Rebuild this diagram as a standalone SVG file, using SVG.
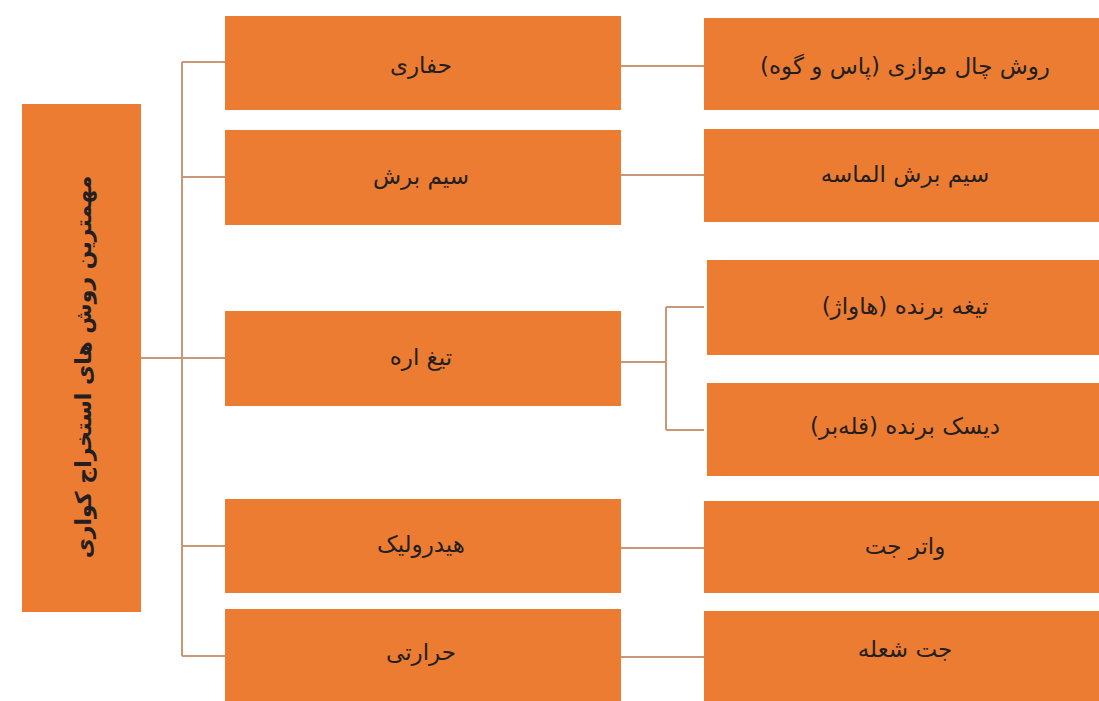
<svg xmlns="http://www.w3.org/2000/svg" width="1099" height="701" viewBox="0 0 1099 701">
<style>
.box{fill:#ec7c31}
.lbl{font-family:"DejaVu Sans",sans-serif;font-size:23px;fill:#231f20;text-anchor:middle;dominant-baseline:central;direction:rtl}
.title{font-family:"DejaVu Sans",sans-serif;font-size:22px;font-weight:bold;fill:#231f20;text-anchor:middle;dominant-baseline:central;direction:rtl}
.con{stroke:#c9977a;stroke-width:2;fill:none}
</style>
<rect width="1099" height="701" fill="#ffffff"/>
<g id="connectors">
<path class="con" d="M141 358H225M182 62V656M182 62H225M182 177H225M182 546H225M182 656H225"/>
<path class="con" d="M621 66H704M621 175H704M621 548H704M621 657H704"/>
<path class="con" d="M621 362H666M666 307V430M666 307H704M666 430H704"/>
</g>
<g id="root">
<rect class="box" x="22" y="104" width="119" height="508"/>
<text class="title" transform="translate(83 367) rotate(-90)">مهمترین روش های استخراج کواری</text>
</g>
<g id="m1"><rect class="box" x="225" y="16" width="396" height="94"/><text class="lbl" x="421" y="65">حفاری</text></g>
<g id="m2"><rect class="box" x="225" y="130" width="396" height="95"/><text class="lbl" x="421" y="176">سیم برش</text></g>
<g id="m3"><rect class="box" x="225" y="311" width="396" height="95"/><text class="lbl" x="421" y="357">تیغ اره</text></g>
<g id="m4"><rect class="box" x="225" y="499" width="396" height="94"/><text class="lbl" x="421" y="544">هیدرولیک</text></g>
<g id="m5"><rect class="box" x="225" y="609" width="396" height="92"/><text class="lbl" x="421" y="652">حرارتی</text></g>
<g id="r1"><rect class="box" x="704" y="18" width="395" height="92"/><text class="lbl" x="905" y="66">روش چال موازی (پاس و گوه)</text></g>
<g id="r2"><rect class="box" x="704" y="129" width="395" height="93"/><text class="lbl" x="905" y="174">سیم برش الماسه</text></g>
<g id="r3a"><rect class="box" x="707" y="260" width="392" height="95"/><text class="lbl" x="905" y="306">تیغه برنده (هاواژ)</text></g>
<g id="r3b"><rect class="box" x="707" y="383" width="392" height="93"/><text class="lbl" x="905" y="426">دیسک برنده (قله‌بر)</text></g>
<g id="r4"><rect class="box" x="704" y="501" width="395" height="92"/><text class="lbl" x="905" y="546">واتر جت</text></g>
<g id="r5"><rect class="box" x="704" y="611" width="395" height="90"/><text class="lbl" x="905" y="649">جت شعله</text></g>
</svg>
